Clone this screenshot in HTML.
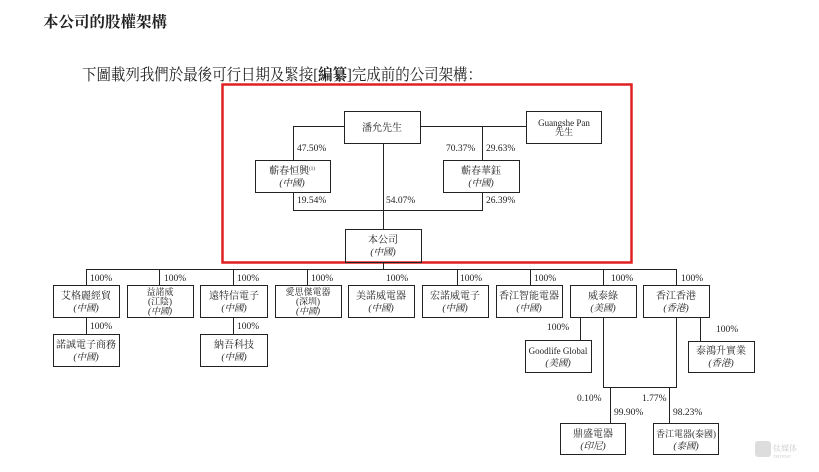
<!DOCTYPE html>
<html><head><meta charset="utf-8"><style>
html,body{margin:0;padding:0;background:#fff;width:819px;height:472px;overflow:hidden}
svg{display:block}
text{font-family:"Liberation Serif","Noto Serif CJK SC",serif;fill:#222}
.b{font-size:10px;text-anchor:middle}
.s{font-size:9px;text-anchor:middle}
.i{font-size:9.5px;text-anchor:middle;font-style:italic}
.si{font-size:9px;text-anchor:middle;font-style:italic}
.p{font-size:9.5px}
</style></head><body>
<svg width="819" height="472" viewBox="0 0 819 472" xmlns="http://www.w3.org/2000/svg">
<text x="43" y="27" style="font-size:15.5px;font-weight:bold;font-family:'Liberation Serif','Noto Serif CJK SC',serif">本公司的股權架構</text>
<text x="82" y="80" style="font-size:16px" textLength="400" lengthAdjust="spacingAndGlyphs">下圖載列我們於最後可行日期及緊接[<tspan font-weight="bold">編纂</tspan>]完成前的公司架構：</text>
<rect x="222.5" y="84.5" width="409" height="178" fill="none" stroke="#e02020" stroke-width="2.5"/>
<g stroke="#222" stroke-width="1" fill="none">
<rect x="344.5" y="111.5" width="76" height="32"/>
<rect x="526.5" y="111.5" width="75" height="32"/>
<rect x="255.5" y="160.5" width="75" height="32"/>
<rect x="443.5" y="160.5" width="76" height="32"/>
<rect x="345.5" y="229.5" width="76" height="33"/>
<path d="M293.5 160V126.5H344M420 126.5H526M482.5 126.5V160M383.5 143V229M293.5 192V210.5H482.5V192M383.5 262V269.5"/>
<path d="M86.5 286V269.5H676.5V286M159.5 269V286M233.5 269V286M307.5 269V286M457.5 269V286M530.5 269V286M603.5 269V286"/>
<rect x="53.5" y="285.5" width="66" height="32"/>
<rect x="127.5" y="285.5" width="66" height="32"/>
<rect x="200.5" y="285.5" width="67" height="32"/>
<rect x="275.5" y="285.5" width="66" height="32"/>
<rect x="348.5" y="285.5" width="66" height="32"/>
<rect x="422.5" y="285.5" width="66" height="32"/>
<rect x="496.5" y="285.5" width="66" height="32"/>
<rect x="570.5" y="285.5" width="66" height="32"/>
<rect x="643.5" y="285.5" width="66" height="32"/>
<rect x="53.5" y="334.5" width="66" height="32"/>
<rect x="200.5" y="334.5" width="67" height="32"/>
<path d="M86.5 318V334M233.5 318V334"/>
<rect x="525.5" y="340.5" width="66" height="32"/>
<rect x="688.5" y="341.5" width="66" height="31"/>
<path d="M580.5 318V340M700.5 318V341M603.5 318V387.5H676.5V318M610.5 387V423M669.5 387V423"/>
<rect x="560.5" y="423.5" width="65" height="31"/>
<rect x="653.5" y="423.5" width="65" height="31"/>
</g>
<text class="b" x="382" y="131">潘允先生</text>
<text class="s" x="564" y="126">Guangshe Pan</text><text class="s" x="564" y="135">先生</text>
<text class="b" x="292" y="174">蘄春恒興<tspan font-size="5" dy="-4">(1)</tspan></text><text class="i" x="292" y="186">(中國)</text>
<text class="b" x="481" y="174">蘄春華鈺</text><text class="i" x="481" y="186">(中國)</text>
<text class="b" x="383" y="243">本公司</text><text class="i" x="383" y="255">(中國)</text>
<text class="p" x="297" y="151">47.50%</text>
<text class="p" x="446" y="151">70.37%</text>
<text class="p" x="486" y="151">29.63%</text>
<text class="p" x="297" y="203">19.54%</text>
<text class="p" x="386" y="203">54.07%</text>
<text class="p" x="486" y="203">26.39%</text>
<text class="p" x="90" y="281">100%</text><text class="p" x="164" y="281">100%</text><text class="p" x="237" y="281">100%</text><text class="p" x="311" y="281">100%</text><text class="p" x="386" y="281">100%</text><text class="p" x="460" y="281">100%</text><text class="p" x="534" y="281">100%</text><text class="p" x="611" y="281">100%</text><text class="p" x="681" y="281">100%</text>
<text class="p" x="90" y="329">100%</text><text class="p" x="237" y="329">100%</text><text class="p" x="547" y="330">100%</text><text class="p" x="716" y="332">100%</text>
<text class="p" x="577" y="401">0.10%</text><text class="p" x="642" y="401">1.77%</text><text class="p" x="614" y="415">99.90%</text><text class="p" x="673" y="415">98.23%</text>
<text class="b" x="86" y="299">艾格麗經貿</text><text class="i" x="86" y="311">(中國)</text>
<text class="s" x="160" y="295">益諾威</text><text class="s" x="160" y="304.5">(江陰)</text><text class="si" x="160" y="314">(中國)</text>
<text class="b" x="234" y="299">遠特信電子</text><text class="i" x="234" y="311">(中國)</text>
<text class="s" x="308" y="295">愛思傑電器</text><text class="s" x="308" y="304.5">(深圳)</text><text class="si" x="308" y="314">(中國)</text>
<text class="b" x="381" y="299">美諾威電器</text><text class="i" x="381" y="311">(中國)</text>
<text class="b" x="455" y="299">宏諾威電子</text><text class="i" x="455" y="311">(中國)</text>
<text class="b" x="529" y="299">香江智能電器</text><text class="i" x="529" y="311">(中國)</text>
<text class="b" x="603" y="299">威泰綠</text><text class="i" x="603" y="311">(美國)</text>
<text class="b" x="676" y="299">香江香港</text><text class="i" x="676" y="311">(香港)</text>
<text class="b" x="86" y="348">諾誠電子商務</text><text class="i" x="86" y="360">(中國)</text>
<text class="b" x="234" y="348">納吾科技</text><text class="i" x="234" y="360">(中國)</text>
<text class="s" x="558" y="354">Goodlife Global</text><text class="i" x="558" y="366">(美國)</text>
<text class="b" x="721" y="354">泰鴻升實業</text><text class="i" x="721" y="366">(香港)</text>
<text class="b" x="593" y="437">鼎盛電器</text><text class="i" x="593" y="449">(印尼)</text>
<text class="s" x="686" y="437">香江電器(泰國)</text><text class="i" x="686" y="449">(泰國)</text>
<rect x="755" y="441" width="16" height="16" rx="3" fill="#ddd"/>
<text x="773" y="451" style="font-size:8px;fill:#ccc">钛媒体</text>
<text x="773" y="458" style="font-size:4px;fill:#ccc">TMTPOST</text>
</svg>
</body></html>
